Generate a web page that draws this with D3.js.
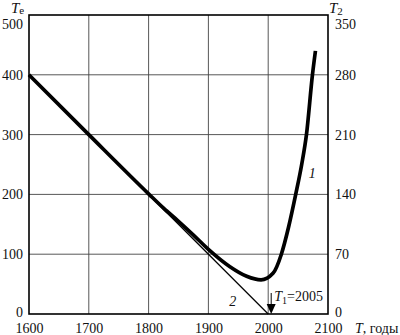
<!DOCTYPE html>
<html>
<head>
<meta charset="utf-8">
<script src="https://cdn.jsdelivr.net/npm/d3@7"></script>
<style>
body{margin:0;background:#fff;}
svg text{font-family:"Liberation Serif","DejaVu Serif",serif;fill:#111;}
</style>
</head>
<body>
<div id="plot"></div>
<script>

// curve 1 (thick): year / Te
var years1 = [1600,1700,1800,1825,1850,1875,1900,1936,1964,1988,2008,2022,2034,2046,2056,2064,2074,2079];
var te1    = [400, 300, 201, 177, 155, 132, 108, 79,  63,  57,  68,  100, 145, 200, 250, 300, 400, 440];

// line 2 (thin)
var years2 = [1600,2000];
var te2    = [400,0];

var xTicks = [1600,1700,1800,1900,2000,2100];
var leftTicks = [0,100,200,300,400,500];
var rightTicks = [0,70,140,210,280,350];
var T1 = 2005;

var FONT = '"Liberation Serif","DejaVu Serif",serif';
var margin = {t:15,l:29};
var W = 400, H = 335;
var width = 299, height = 299;

var svg = d3.select('#plot').append('svg')
	.attr('width',W)
	.attr('height',H)
	.attr('font-family',FONT);

var x = d3.scaleLinear().domain([1600,2100]).range([margin.l,margin.l+width]);
var y = d3.scaleLinear().domain([0,500]).range([margin.t+height,margin.t]);
var y2 = d3.scaleLinear().domain([0,350]).range([margin.t+height,margin.t]);

// grid
svg.append('g').selectAll('line.vg')
	.data(xTicks.slice(1,-1))
	.enter().append('line')
	.attr('x1',function(d){return x(d)}).attr('x2',function(d){return x(d)})
	.attr('y1',y(0)).attr('y2',y(500))
	.attr('stroke','#444').attr('stroke-width',0.9);

svg.append('g').selectAll('line.hg')
	.data(leftTicks.slice(1,-1))
	.enter().append('line')
	.attr('y1',function(d){return y(d)}).attr('y2',function(d){return y(d)})
	.attr('x1',x(1600)).attr('x2',x(2100))
	.attr('stroke','#444').attr('stroke-width',0.9);

// frame
svg.append('rect')
	.attr('x',x(1600)).attr('y',y(500))
	.attr('width',x(2100)-x(1600)).attr('height',y(0)-y(500))
	.attr('fill','none').attr('stroke','#000').attr('stroke-width',1.6);

// axes (labels only)
var axL = svg.append('g')
	.attr('transform','translate('+(x(1600)-3)+',0)')
	.call(d3.axisLeft(y).tickValues(leftTicks).tickSize(0).tickPadding(3));
var axR = svg.append('g')
	.attr('transform','translate('+(x(2100)+4)+',0)')
	.call(d3.axisRight(y2).tickValues(rightTicks).tickSize(0).tickPadding(3));
var axB = svg.append('g')
	.attr('transform','translate(0,'+(y(0)+6)+')')
	.call(d3.axisBottom(x).tickValues(xTicks).tickSize(0).tickPadding(3).tickFormat(d3.format('d')));

[axL,axR,axB].forEach(function(a){
	a.attr('font-family',FONT).attr('font-size',14);
	a.select('.domain').remove();
	a.selectAll('text').attr('fill','#111');
});
axL.selectAll('.tick text').attr('dy',function(d){return d==500?'0.95em':(d==0?'0.15em':'0.32em')});
axR.selectAll('.tick text').attr('dy',function(d){return d==350?'0.95em':(d==0?'0.15em':'0.32em')});

// lines
var line = d3.line()
	.x(function(d){return x(d[0])})
	.y(function(d){return y(d[1])});

var pts2 = years2.map(function(v,i){return [v,te2[i]]});
svg.append('path')
	.attr('d',line(pts2))
	.attr('fill','none').attr('stroke','#000').attr('stroke-width',1.3);

var pts1 = years1.map(function(v,i){return [v,te1[i]]});
svg.append('path')
	.attr('d',line.curve(d3.curveMonotoneX)(pts1))
	.attr('fill','none').attr('stroke','#000').attr('stroke-width',3.7)
	.attr('stroke-linejoin','round');

// arrow at T1
var ax = x(T1);
svg.append('line')
	.attr('x1',ax).attr('x2',ax).attr('y1',y(0)-21).attr('y2',y(0)-9)
	.attr('stroke','#000').attr('stroke-width',1);
svg.append('path')
	.attr('d','M'+(ax-4.5)+','+(y(0)-10)+'L'+(ax+4.5)+','+(y(0)-10)+'L'+ax+','+y(0)+'Z')
	.attr('fill','#000');

var t1 = svg.append('text').attr('x',ax+3).attr('y',y(0)-13).attr('font-size',14);
t1.append('tspan').text('T').attr('font-style','italic');
t1.append('tspan').text('1').attr('font-size',10).attr('dy',3);
t1.append('tspan').text('=2005').attr('dy',-3);

// curve labels
svg.append('text').attr('x',x(1935)).attr('y',y(14)).text('2')
	.attr('font-size',14).attr('font-style','italic');
svg.append('text').attr('x',x(2068)).attr('y',y(228)).text('1')
	.attr('font-size',14).attr('font-style','italic');

// axis titles
var tl = svg.append('text').attr('x',11).attr('y',13).attr('font-size',15);
tl.append('tspan').text('T').attr('font-style','italic');
tl.append('tspan').text('e').attr('font-size',11).attr('dy',1);

var tr = svg.append('text').attr('x',x(2100)+1).attr('y',13).attr('font-size',15);
tr.append('tspan').text('T').attr('font-style','italic');
tr.append('tspan').text('2').attr('font-size',11).attr('dy',2);

var tb = svg.append('text').attr('x',355).attr('y',333).attr('font-size',14);
tb.append('tspan').text('T').attr('font-style','italic');
tb.append('tspan').text(', годы');

</script>
</body>
</html>
